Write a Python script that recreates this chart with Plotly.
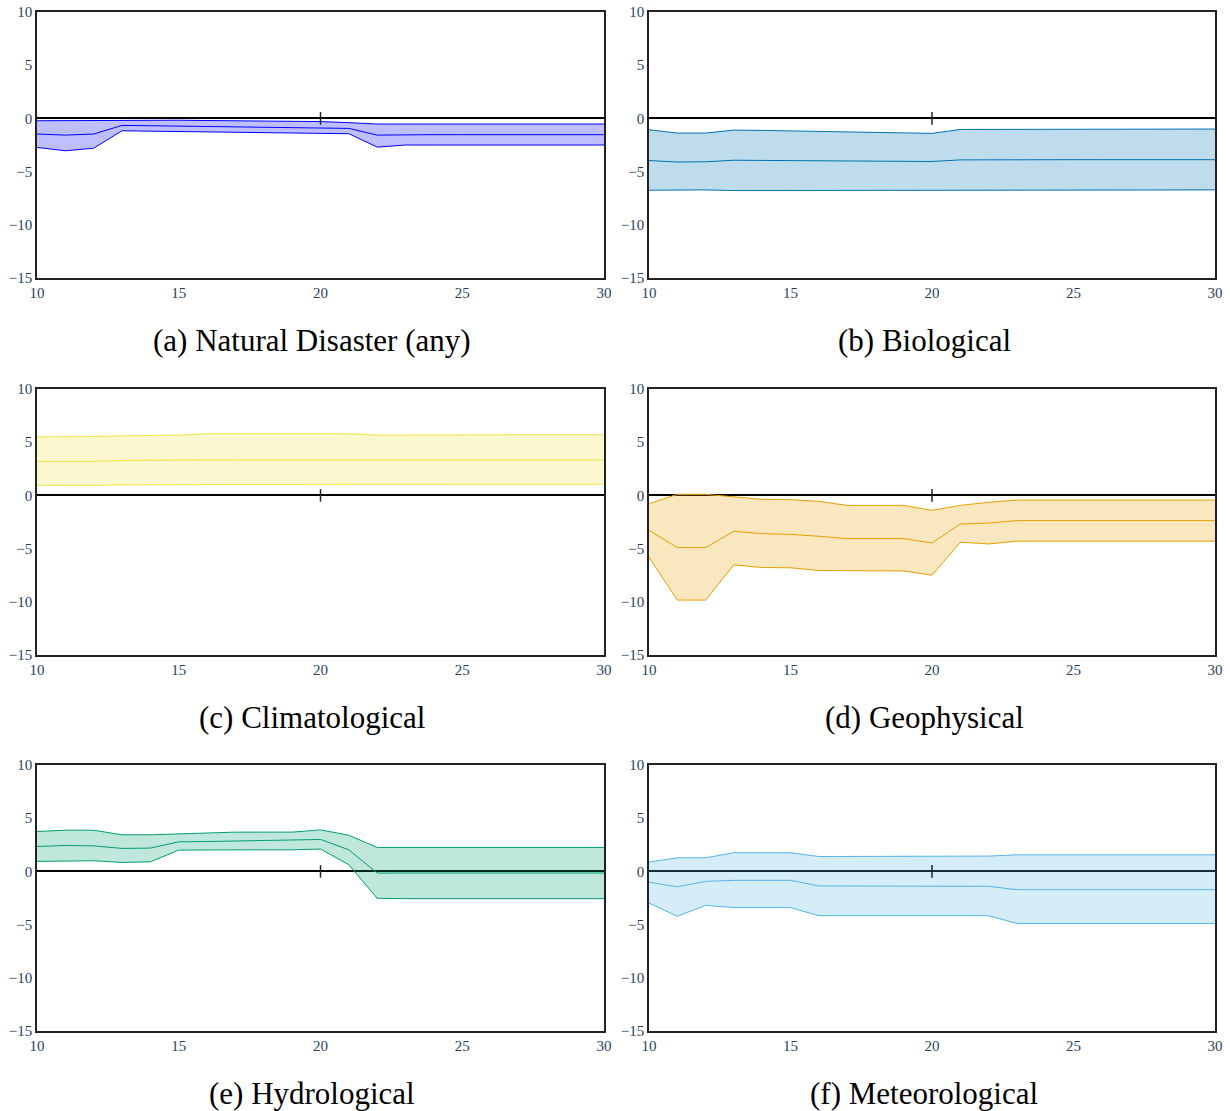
import plotly.graph_objects as go

x_vals = list(range(10, 31))
x_ticks = [10, 15, 20, 25, 30]
y_ticks = [-15, -10, -5, 0, 5, 10]
y_tick_text = ["\u221215", "\u221210", "\u22125", "0", "5", "10"]
event_x = [20]
event_y = [0]

titles = ["(a) Natural Disaster (any)", "(b) Biological", "(c) Climatological",
          "(d) Geophysical", "(e) Hydrological", "(f) Meteorological"]

def flat(vals, n=21):
    return vals + [vals[-1]] * (n - len(vals))

a_upper = flat([-0.22, -0.2, -0.18, -0.15, -0.15, -0.17, -0.2, -0.22, -0.25, -0.27, -0.3, -0.4, -0.53])
a_mid = flat([-1.47, -1.57, -1.47, -0.66, -0.69, -0.72, -0.75, -0.78, -0.81, -0.85, -0.9, -0.94, -1.57, -1.53])
a_lower = flat([-2.73, -3.04, -2.8, -1.16, -1.2, -1.24, -1.28, -1.32, -1.36, -1.4, -1.45, -1.44, -2.7, -2.5])

b_upper = flat([-1.07, -1.38, -1.38, -1.1, -1.13, -1.17, -1.2, -1.25, -1.3, -1.32, -1.41, -1.04, -1.03, -1.02, -1.0])
b_mid = flat([-3.96, -4.1, -4.08, -3.93, -3.95, -3.97, -3.99, -4.0, -4.02, -4.03, -4.05, -3.9, -3.88])
b_lower = flat([-6.75, -6.72, -6.72, -6.78, -6.78, -6.78, -6.78, -6.77, -6.77, -6.76, -6.76, -6.72])

c_upper = flat([5.5, 5.5, 5.53, 5.6, 5.63, 5.66, 5.79, 5.78, 5.76, 5.75, 5.73, 5.79, 5.66, 5.68, 5.7])
c_mid = flat([3.2, 3.2, 3.2, 3.29, 3.32])
c_lower = flat([0.95, 0.94, 0.93, 1.0, 1.02, 1.02, 1.02, 1.03, 1.03, 1.03, 1.04, 1.04, 1.05])

d_upper = flat([-0.78, 0.1, 0.1, -0.15, -0.37, -0.4, -0.56, -0.94, -0.94, -0.94, -1.4, -0.94, -0.65, -0.44])
d_mid = flat([-3.28, -4.9, -4.9, -3.37, -3.6, -3.66, -3.84, -4.06, -4.06, -4.06, -4.47, -2.69, -2.6, -2.37])
d_lower = flat([-5.8, -9.84, -9.84, -6.53, -6.78, -6.8, -7.06, -7.08, -7.1, -7.1, -7.5, -4.4, -4.56, -4.3])

e_upper = flat([3.75, 3.87, 3.87, 3.44, 3.44, 3.53, 3.6, 3.69, 3.69, 3.69, 3.9, 3.4, 2.25])
e_mid = flat([2.34, 2.44, 2.4, 2.16, 2.19, 2.78, 2.81, 2.84, 2.87, 2.9, 3.0, 2.03, -0.16, -0.15])
e_lower = flat([0.94, 0.97, 1.0, 0.84, 0.9, 2.0, 2.03, 2.03, 2.03, 2.03, 2.1, 0.63, -2.53, -2.56])

f_upper = flat([0.87, 1.28, 1.28, 1.75, 1.75, 1.75, 1.4, 1.4, 1.4, 1.4, 1.42, 1.43, 1.44, 1.56])
f_mid = flat([-1.03, -1.44, -0.94, -0.84, -0.84, -0.84, -1.37, -1.38, -1.38, -1.39, -1.39, -1.4, -1.4, -1.72])
f_lower = flat([-2.97, -4.22, -3.19, -3.4, -3.4, -3.4, -4.16, -4.16, -4.16, -4.16, -4.16, -4.16, -4.16, -4.9])

series = [(a_upper, a_mid, a_lower), (b_upper, b_mid, b_lower), (c_upper, c_mid, c_lower),
          (d_upper, d_mid, d_lower), (e_upper, e_mid, e_lower), (f_upper, f_mid, f_lower)]
line_colors = ["#0000FF", "#0072B2", "#F0E442", "#E69F00", "#009E73", "#56B4E9"]
fill_colors = ["rgba(0,0,255,0.25)", "rgba(0,114,178,0.25)", "rgba(240,228,66,0.25)",
               "rgba(230,159,0,0.25)", "rgba(0,158,115,0.25)", "rgba(86,180,233,0.25)"]

W, H = 1230, 1111
x_domains = [[37 / W, 604 / W], [649 / W, 1215 / W]]
caption_x = [312 / W, 924 / W]
rows_px = [(12, 278), (389, 655), (765, 1031)]
y_domains = [[1 - b / H, 1 - t / H] for t, b in rows_px]
caption_y = [1 - 340 / H, 1 - 717 / H, 1 - 1093 / H]

fig = go.Figure()
serif = "Liberation Serif, DejaVu Serif, serif"
layout = dict(width=W, height=H, margin=dict(l=0, r=0, t=0, b=0, autoexpand=False),
              paper_bgcolor="white", plot_bgcolor="white", showlegend=False,
              annotations=[])

for i, (up, mid, lo) in enumerate(series):
    r, c = divmod(i, 2)
    n = i + 1
    xa = "x" if n == 1 else f"x{n}"
    ya = "y" if n == 1 else f"y{n}"
    lc, fc = line_colors[i], fill_colors[i]
    fig.add_trace(go.Scatter(x=x_vals, y=lo, mode="lines", line=dict(color=lc, width=1),
                             xaxis=xa, yaxis=ya, hoverinfo="skip"))
    fig.add_trace(go.Scatter(x=x_vals, y=up, mode="lines", line=dict(color=lc, width=1),
                             fill="tonexty", fillcolor=fc, xaxis=xa, yaxis=ya, hoverinfo="skip"))
    fig.add_trace(go.Scatter(x=x_vals, y=mid, mode="lines", line=dict(color=lc, width=1),
                             xaxis=xa, yaxis=ya, hoverinfo="skip"))
    fig.add_trace(go.Scatter(x=event_x, y=event_y, mode="markers",
                             marker=dict(symbol="line-ns", size=9, line=dict(color="#222", width=1.5)),
                             xaxis=xa, yaxis=ya, hoverinfo="skip"))
    xkey = "xaxis" if n == 1 else f"xaxis{n}"
    ykey = "yaxis" if n == 1 else f"yaxis{n}"
    layout[xkey] = dict(domain=x_domains[c], anchor=ya, range=[10, 30], tickvals=x_ticks,
                        showgrid=False, zeroline=False, showline=True, mirror=True,
                        linecolor="#222", linewidth=1.5, ticks="", automargin=False,
                        tickfont=dict(family=serif, size=15, color="#2a3f5f"))
    layout[ykey] = dict(domain=y_domains[r], anchor=xa, range=[-15, 10], tickvals=y_ticks,
                        ticktext=y_tick_text, showgrid=False, zeroline=True, zerolinecolor="black",
                        zerolinewidth=1.5, showline=True, mirror=True, linecolor="#222",
                        linewidth=1.5, ticks="", automargin=False,
                        tickfont=dict(family=serif, size=15, color="#2a3f5f"))
    layout["annotations"].append(dict(text=titles[i], xref="paper", yref="paper",
                                      x=caption_x[c], y=caption_y[r],
                                      xanchor="center", yanchor="middle", showarrow=False,
                                      font=dict(family=serif, size=31, color="black")))

fig.update_layout(**layout)
fig.write_html("out.html", config={"displayModeBar": False},
               post_script="document.body.style.margin='0';document.body.style.overflow='hidden';")
